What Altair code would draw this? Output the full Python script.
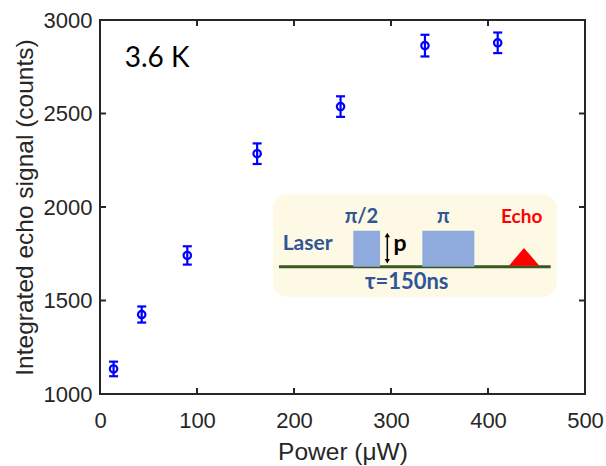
import altair as alt
import pandas as pd

# ---- data ----
power = [14, 43, 90, 162, 248, 335, 410]          # µW
signal = [1134, 1425, 1741, 2285, 2537, 2863, 2878]  # counts
err = [39, 43, 49, 55, 55, 58, 55]

x_ticks = [0, 100, 200, 300, 400, 500]
y_ticks = [1000, 1500, 2000, 2500, 3000]

df = pd.DataFrame({"power": power, "signal": signal,
                   "lo": [s - e for s, e in zip(signal, err)],
                   "hi": [s + e for s, e in zip(signal, err)]})

W, H = 485, 374
XD = [0, 500]
YD = [1000, 3000]
px_x = W / (XD[1] - XD[0])
px_y = H / (YD[1] - YD[0])

xs = alt.Scale(domain=XD, nice=False, zero=False)
ys = alt.Scale(domain=YD, nice=False, zero=False)

AX_FONT = "Liberation Sans"
INSET_FONT = "Lato"
BLUE_TXT = "#2f5597"
FRAME = "#262626"
X_TITLE = "Power (μW)"
Y_TITLE = "Integrated echo signal (counts)"

AXIS_X = alt.Axis(values=x_ticks, format="d", ticks=False, tickSize=0, domain=False, grid=False,
                  labelFlush=False,
                  labelFont=AX_FONT, labelFontSize=22, labelColor="#262626",
                  labelPadding=16, titleFont=AX_FONT, titleFontSize=24.5,
                  titleFontWeight="normal", titleColor="#262626", titlePadding=9)
AXIS_Y = alt.Axis(values=y_ticks, format="d", ticks=False, tickSize=0, domain=False, grid=False,
                  labelFlush=False,
                  labelFont=AX_FONT, labelFontSize=22, labelColor="#262626",
                  labelPadding=8, titleFont=AX_FONT, titleFontSize=24.5,
                  titleFontWeight="normal", titleColor="#262626", titlePadding=6)


def X(field="x"):
    return alt.X(field, type="quantitative", scale=xs, axis=AXIS_X, title=X_TITLE)


def Y(field="y"):
    return alt.Y(field, type="quantitative", scale=ys, axis=AXIS_Y, title=Y_TITLE)


# inward ticks on all four sides
tl_y = 6 / px_y
tl_x = 6 / px_x
inner_x = [v for v in x_ticks if XD[0] < v < XD[1]]
inner_y = [v for v in y_ticks if YD[0] < v < YD[1]]
tick_rows = []
for v in inner_x:
    tick_rows.append({"x": v, "x2": v, "y": YD[0], "y2": YD[0] + tl_y})
    tick_rows.append({"x": v, "x2": v, "y": YD[1], "y2": YD[1] - tl_y})
for v in inner_y:
    tick_rows.append({"x": XD[0], "x2": XD[0] + tl_x, "y": v, "y2": v})
    tick_rows.append({"x": XD[1], "x2": XD[1] - tl_x, "y": v, "y2": v})
ticks = alt.Chart(pd.DataFrame(tick_rows)).mark_rule(color=FRAME, strokeWidth=2).encode(
    x=X(), x2="x2", y=Y(), y2="y2")

# ---- inset (pulse sequence) ----
inset_box = alt.Chart(pd.DataFrame({"x": [178.4], "x2": [470.8], "y": [1520], "y2": [2068]})).mark_rect(
    color="#fdf9e4", cornerRadius=14).encode(x=X(), x2="x2", y=Y(), y2="y2")

baseline = alt.Chart(pd.DataFrame({"x": [184.5], "x2": [464.6], "y": [1681]})).mark_rule(
    color="#385723", strokeWidth=3).encode(x=X(), x2="x2", y=Y())

pulses = alt.Chart(pd.DataFrame({"x": [261.1, 332.3], "x2": [288.7, 385.9],
                                 "y": [1681, 1681], "y2": [1873, 1873]})).mark_rect(
    color="#8faadc").encode(x=X(), x2="x2", y=Y(), y2="y2")

echo_tri = alt.Chart(pd.DataFrame({"x": [421.6, 437.1, 452.9], "y": [1686, 1781, 1686],
                                   "y2": [1686, 1686, 1686]})).mark_area(
    color="#ff0000", opacity=1).encode(x=X(), y=Y(), y2="y2")

arrow_line = alt.Chart(pd.DataFrame({"x": [296.2], "y": [1712], "y2": [1848]})).mark_rule(
    color="black", strokeWidth=1.5).encode(x=X(), y=Y(), y2="y2")
arrow_heads = alt.Chart(pd.DataFrame({"x": [296.2, 296.2], "y": [1850, 1710],
                                      "s": ["triangle-up", "triangle-down"]})).mark_point(
    filled=True, color="black", size=28, opacity=1).encode(
    x=X(), y=Y(), shape=alt.Shape("s:N", scale=None, legend=None))

inset_text = pd.DataFrame({
    "x": [214.0, 269.5, 354.0, 434.7, 309.3, 316.2],
    "y": [1803, 1945, 1945, 1947, 1800, 1597],
    "t": ["Laser", "π/2", "π", "Echo", "p", "τ=150ns"],
    "c": [BLUE_TXT, BLUE_TXT, BLUE_TXT, "#ff0000", "#000000", BLUE_TXT],
    "fs": [21, 20, 20, 19, 23, 22],
})
inset_labels = alt.Chart(inset_text).mark_text(
    font=INSET_FONT, fontWeight="bold", baseline="middle", align="center").encode(
    x=X(), y=Y(), text="t:N",
    color=alt.Color("c:N", scale=None, legend=None),
    size=alt.Size("fs:Q", scale=None, legend=None))

temp_label = alt.Chart(pd.DataFrame({"x": [25.5], "y": [2790], "t": ["3.6 K"]})).mark_text(
    font=INSET_FONT, fontSize=28, align="left", baseline="middle", color="black").encode(
    x=X(), y=Y(), text="t:N")

# ---- data marks ----
err_rule = alt.Chart(df).mark_rule(color="#0000ff", strokeWidth=2.2).encode(
    x=X("power"), y=Y("lo"), y2="hi:Q")
cap_lo = alt.Chart(df).mark_tick(color="#0000ff", thickness=2.2, size=9, orient="horizontal",
                                 opacity=1).encode(x=X("power"), y=Y("lo"))
cap_hi = alt.Chart(df).mark_tick(color="#0000ff", thickness=2.2, size=9, orient="horizontal",
                                 opacity=1).encode(x=X("power"), y=Y("hi"))

points = alt.Chart(df).mark_point(
    shape="circle", filled=False, color="#0000ff", size=55, strokeWidth=2.2, opacity=1).encode(
    x=X("power"), y=Y("signal"))

chart = alt.layer(
    inset_box, baseline, pulses, echo_tri, arrow_line, arrow_heads,
    inset_labels, temp_label, ticks, err_rule, cap_lo, cap_hi, points
).properties(
    width=W, height=H,
    autosize=alt.AutoSizeParams(type="none"),
    padding={"left": 100, "top": 20, "right": 21, "bottom": 72},
).configure(background="white").configure_view(stroke=FRAME, strokeWidth=2)

chart.save("out.html", embed_options={"renderer": "svg", "actions": False})
